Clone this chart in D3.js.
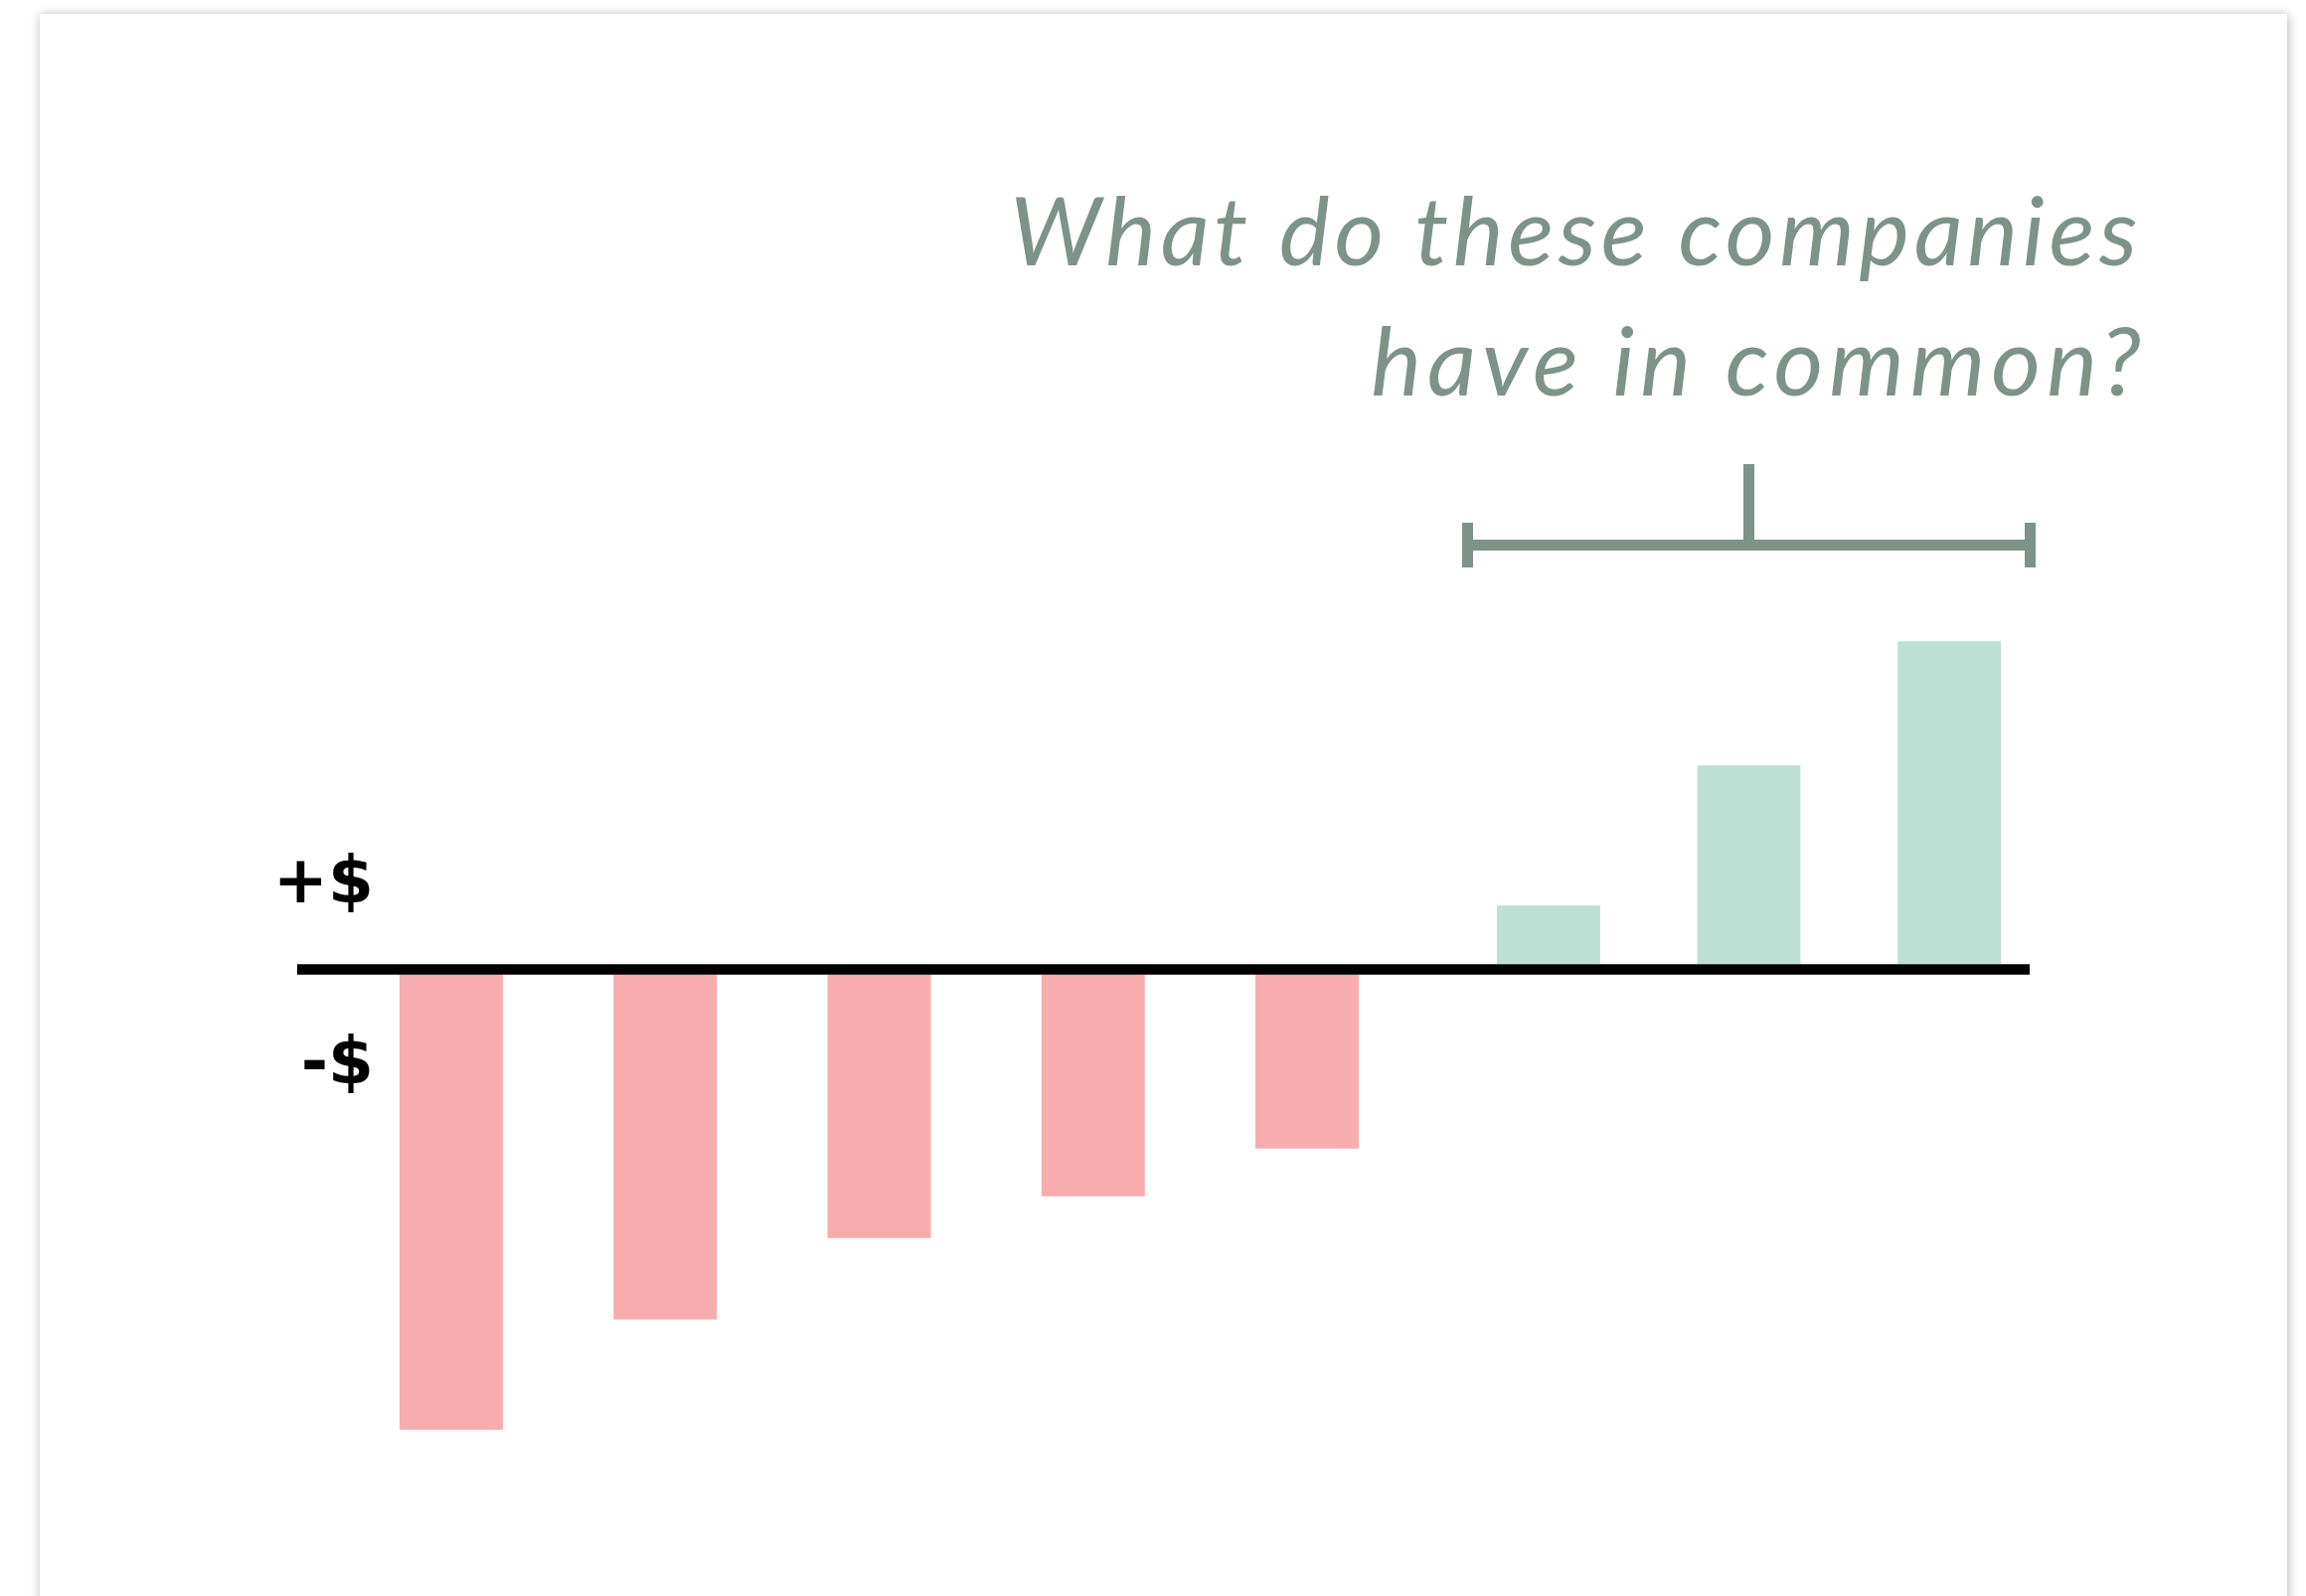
<html>
<head>
  <meta charset="utf-8">
  <script src="https://cdn.jsdelivr.net/npm/d3@7"></script>
  <style>
    body { margin: 0; background: #fff; overflow: hidden; }
    #card {
      position: absolute; left: 40px; top: 14px; width: 2261px; height: 1700px;
      background: #fff; box-shadow: 1px 1px 10px rgba(0,0,0,0.3);
    }
    #chart { position: absolute; left: 0; top: 0; }
  </style>
</head>
<body>
  <div id="card"></div>
  <svg id="chart" width="2320" height="1606"></svg>
  <script>
  // companies losing money, and the three making money
  var losers = ["c1", "c2", "c3", "c4", "c5"];
  var loserValues = [-9.16, -6.94, -5.3, -4.46, -3.5];
  var winners = ["c6", "c7", "c8"];
  var winnerValues = [1.18, 4.0, 6.5];
  var axisLabels = ["+$", "-$"];
  var titleLines = ["What do these companies", "have in common?"];

  var svg = d3.select('#chart');
  var axisW = 10.5;
  var zeroY = 975.5;

  var y = d3.scaleLinear().domain([-10, 10]).range([zeroY + 500, zeroY - 500]);
  var xLoss = d3.scaleBand().domain(losers).range([402, 1367]).paddingInner(0.517).paddingOuter(0);
  var xWin = d3.scaleBand().domain(winners).range([1506, 2013]).paddingInner(0.485).paddingOuter(0);

  var lossData = losers.map(function(d, i) { return { name: d, v: loserValues[i] }; });
  var winData = winners.map(function(d, i) { return { name: d, v: winnerValues[i] }; });

  svg.append('g').selectAll('rect').data(lossData).enter().append('rect')
    .attr('x', function(d) { return xLoss(d.name); })
    .attr('width', xLoss.bandwidth())
    .attr('y', zeroY + axisW / 2)
    .attr('height', function(d) { return y(d.v) - y(0); })
    .attr('fill', '#f7acae');

  svg.append('g').selectAll('rect').data(winData).enter().append('rect')
    .attr('x', function(d) { return xWin(d.name); })
    .attr('width', xWin.bandwidth())
    .attr('y', function(d) { return y(d.v) - axisW / 2; })
    .attr('height', function(d) { return y(0) - y(d.v); })
    .attr('fill', '#bedfd3');

  // zero line
  svg.append('line')
    .attr('x1', 299).attr('x2', 2042)
    .attr('y1', y(0)).attr('y2', y(0))
    .attr('stroke', '#000').attr('stroke-width', axisW);

  // +$ / -$ labels
  svg.selectAll('.lbl').data(axisLabels).enter().append('text')
    .attr('class', 'lbl')
    .attr('x', 376)
    .attr('y', function(d, i) { return i === 0 ? 908 : 1090; })
    .attr('text-anchor', 'end')
    .style('font-family', '"DejaVu Sans", sans-serif')
    .style('font-weight', 'bold')
    .style('font-size', '66px')
    .attr('fill', '#000')
    .text(function(d) { return d; });

  // bracket over the winners
  var bx0 = xWin.range()[0] - 35, bx1 = xWin.range()[1] + 35, bmid = (bx0 + bx1) / 2;
  var bracketColor = '#7d9388';
  var br = svg.append('g').attr('stroke', bracketColor).attr('stroke-width', 11);
  br.append('line').attr('x1', bx0).attr('x2', bx1).attr('y1', 548.5).attr('y2', 548.5);
  br.append('line').attr('x1', bx0 + 5.5).attr('x2', bx0 + 5.5).attr('y1', 526).attr('y2', 571);
  br.append('line').attr('x1', bx1 - 5.5).attr('x2', bx1 - 5.5).attr('y1', 526).attr('y2', 571);
  br.append('line').attr('x1', bmid).attr('x2', bmid).attr('y1', 467).attr('y2', 543);

  // question
  svg.selectAll('.title').data(titleLines).enter().append('text')
    .attr('class', 'title')
    .attr('x', function(d, i) { return i === 0 ? 2155 : 2160; })
    .attr('y', function(d, i) { return i === 0 ? 267 : 398; })
    .attr('text-anchor', 'end')
    .style('font-family', 'Lato, sans-serif')
    .style('font-style', 'italic')
    .style('font-size', '96px')
    .style('letter-spacing', function(d, i) { return i === 0 ? '4.6px' : '6px'; })
    .attr('fill', '#7e9387')
    .text(function(d) { return d; });
  </script>
</body>
</html>
